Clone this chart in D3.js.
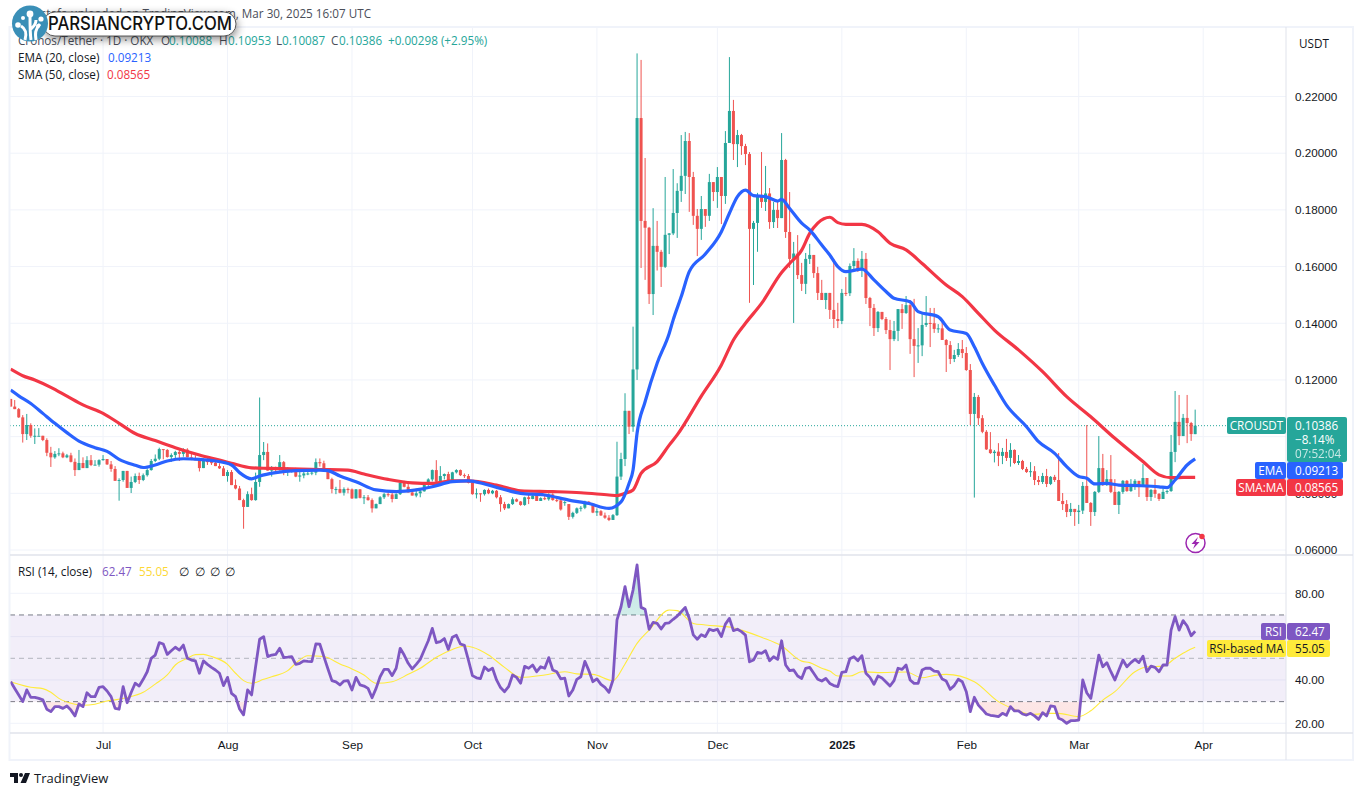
<!DOCTYPE html>
<html>
<head>
<meta charset="utf-8">
<script src="https://cdnjs.cloudflare.com/ajax/libs/d3/7.8.5/d3.min.js"></script>
<style>
  html, body { margin: 0; padding: 0; background: #fff; }
  svg { display: block; }
  text { font-family: "Open Sans", "Noto Sans", sans-serif; font-size: 11.7px; fill: #131722; }
  .axis path, .axis line { display: none; }
</style>
</head>
<body>
<svg id="chart" width="1364" height="796"></svg>
<script>
// daily candles, first one is 8 Jun 2024, last one 30 Mar 2025
const firstDay = Date.UTC(2024, 5, 8);
const firstOpen = .1133;
const closes = [
  .1106,.1097,.1068,.1009,.1041,.1003,.1003,.1003,.0988,.0943,
  .0927,.0939,.0941,.0927,.0934,.0911,.0882,.0907,.0889,.0917,
  .0900,.0901,.0917,.0921,.0902,.0886,.0844,.0847,.0879,.0819,
  .0840,.0861,.0847,.0864,.0882,.0914,.0922,.0956,.0953,.0928,
  .0935,.0946,.0939,.0954,.0927,.0920,.0917,.0889,.0920,.0910,
  .0908,.0896,.0888,.0861,.0875,.0829,.0817,.0776,.0752,.0797,
  .0776,.0840,.0935,.0946,.0880,.0890,.0882,.0910,.0880,.0880,
  .0884,.0859,.0863,.0870,.0870,.0873,.0910,.0906,.0884,.0850,
  .0815,.0815,.0802,.0815,.0814,.0782,.0814,.0784,.0786,.0776,
  .0747,.0762,.0786,.0797,.0796,.0780,.0797,.0837,.0823,.0803,
  .0792,.0800,.0807,.0835,.0849,.0882,.0841,.0861,.0868,.0843,
  .0874,.0882,.0864,.0861,.0837,.0797,.0800,.0797,.0812,.0800,
  .0809,.0786,.0762,.0747,.0762,.0779,.0771,.0759,.0786,.0780,
  .0792,.0773,.0783,.0779,.0796,.0776,.0775,.0743,.0769,.0717,
  .0731,.0747,.0749,.0770,.0764,.0732,.0737,.0722,.0714,.0706,
  .0723,.0859,.0921,.1091,.1035,.1237,.2124,.1761,.1737,.1503,
  .1673,.1652,.1599,.1712,.1717,.1789,.1867,.1920,.2043,.1916,
  .1779,.1733,.1803,.1779,.1898,.1863,.1916,.1849,.2036,.2149,
  .2032,.2064,.2025,.1997,.1733,.1754,.1846,.1828,.1858,.1757,
  .1800,.1771,.1976,.1722,.1627,.1646,.1570,.1539,.1627,.1641,
  .1577,.1507,.1482,.1507,.1447,.1415,.1408,.1507,.1506,.1602,
  .1620,.1588,.1627,.1489,.1454,.1383,.1440,.1415,.1376,.1344,
  .1373,.1450,.1436,.1464,.1344,.1320,.1322,.1394,.1401,.1400,
  .1380,.1382,.1341,.1323,.1274,.1288,.1309,.1295,.1235,.1080,
  .1140,.1065,.1017,.0955,.0942,.0947,.0932,.0946,.0925,.0953,
  .0907,.0914,.0886,.0875,.0878,.0847,.0840,.0861,.0833,.0858,
  .0847,.0773,.0762,.0734,.0745,.0734,.0739,.0826,.0766,.0734,
  .0805,.0889,.0829,.0850,.0805,.0759,.0805,.0844,.0808,.0833,
  .0844,.0826,.0854,.0787,.0812,.0798,.0780,.0805,.0808,.0946,
  .1052,.1002,.1066,.1048,.1009,.10386
];
const highs = [
  .1133,.1129,.1101,.1076,.1080,.1047,.1029,.1030,.1003,.0994,
  .0964,.0949,.0959,.0947,.0939,.0943,.0923,.0953,.0927,.0931,
  .0935,.0917,.0920,.0935,.0921,.0914,.0896,.0853,.0879,.0879,
  .0859,.0870,.0873,.0870,.0888,.0921,.0937,.0961,.0956,.0956,
  .0941,.0950,.0959,.0959,.0959,.0939,.0934,.0923,.0923,.0929,
  .0922,.0923,.0906,.0896,.0882,.0882,.0849,.0826,.0781,.0807,
  .0820,.0873,.1138,.0981,.0976,.0896,.0894,.0935,.0914,.0892,
  .0888,.0890,.0882,.0884,.0882,.0884,.0923,.0923,.0915,.0888,
  .0855,.0823,.0847,.0821,.0820,.0817,.0815,.0815,.0794,.0794,
  .0782,.0764,.0790,.0802,.0809,.0804,.0800,.0847,.0844,.0835,
  .0812,.0817,.0814,.0837,.0853,.0884,.0917,.0896,.0870,.0876,
  .0876,.0885,.0884,.0870,.0868,.0844,.0817,.0800,.0814,.0817,
  .0812,.0812,.0794,.0770,.0764,.0786,.0782,.0773,.0788,.0794,
  .0800,.0794,.0786,.0794,.0800,.0800,.0782,.0776,.0773,.0762,
  .0735,.0750,.0755,.0774,.0773,.0759,.0747,.0741,.0732,.0723,
  .0727,.0982,.0943,.1153,.1091,.1388,.2352,.2329,.1983,.1740,
  .1806,.1761,.1659,.1916,.1718,.1944,.1894,.2064,.2075,.2071,
  .1934,.1803,.1849,.1803,.1927,.1898,.1951,.1916,.2078,.2339,
  .2188,.2082,.2068,.2033,.2004,.1761,.1860,.2004,.1955,.1877,
  .1828,.1835,.2071,.1980,.1863,.1687,.1711,.1613,.1648,.1680,
  .1641,.1599,.1553,.1507,.1507,.1627,.1472,.1521,.1563,.1611,
  .1665,.1629,.1655,.1648,.1493,.1468,.1443,.1440,.1422,.1412,
  .1408,.1450,.1468,.1496,.1482,.1486,.1383,.1440,.1496,.1454,
  .1454,.1397,.1415,.1344,.1337,.1306,.1330,.1341,.1316,.1256,
  .1154,.1147,.1076,.1023,.1016,.0953,.0977,.0960,.0992,.0977,
  .0955,.0935,.0918,.0893,.0910,.0896,.0861,.0872,.0886,.0861,
  .0865,.0942,.0801,.0776,.0766,.0745,.0759,.0840,.1041,.0769,
  .0808,.1002,.0939,.0882,.0935,.0850,.0808,.0847,.0847,.0850,
  .0850,.0844,.0903,.0854,.0815,.0850,.0801,.0826,.0812,.1006,
  .1161,.1147,.1080,.1147,.1052,.10953
];
const lows = [
  .1106,.1097,.1066,.0979,.0988,.0996,.0974,.1003,.0984,.0931,
  .0893,.0922,.0931,.0924,.0924,.0909,.0861,.0882,.0889,.0889,
  .0896,.0900,.0894,.0915,.0900,.0876,.0844,.0774,.0841,.0819,
  .0801,.0836,.0833,.0843,.0859,.0880,.0910,.0917,.0920,.0926,
  .0911,.0924,.0914,.0929,.0927,.0917,.0917,.0877,.0889,.0900,
  .0900,.0896,.0886,.0861,.0841,.0829,.0814,.0776,.0675,.0752,
  .0774,.0774,.0823,.0917,.0880,.0859,.0868,.0880,.0864,.0861,
  .0873,.0857,.0841,.0853,.0864,.0864,.0864,.0894,.0882,.0850,
  .0800,.0797,.0800,.0792,.0800,.0780,.0782,.0782,.0762,.0774,
  .0732,.0747,.0762,.0780,.0788,.0768,.0780,.0794,.0821,.0803,
  .0792,.0786,.0786,.0806,.0826,.0842,.0835,.0841,.0849,.0841,
  .0844,.0870,.0861,.0854,.0835,.0795,.0782,.0770,.0792,.0797,
  .0797,.0782,.0735,.0741,.0747,.0759,.0769,.0756,.0756,.0762,
  .0779,.0773,.0773,.0776,.0774,.0774,.0769,.0739,.0756,.0706,
  .0711,.0727,.0736,.0744,.0762,.0730,.0720,.0720,.0710,.0702,
  .0706,.0720,.0847,.0896,.1009,.1017,.1200,.1595,.1553,.1468,
  .1429,.1586,.1528,.1595,.1644,.1711,.1701,.1828,.1856,.1793,
  .1747,.1637,.1694,.1740,.1761,.1831,.1807,.1750,.1821,.2036,
  .1976,.1951,.1994,.1958,.1472,.1535,.1652,.1807,.1796,.1733,
  .1736,.1736,.1771,.1701,.1595,.1401,.1556,.1514,.1503,.1609,
  .1560,.1482,.1482,.1450,.1415,.1383,.1383,.1397,.1496,.1496,
  .1588,.1581,.1563,.1468,.1390,.1355,.1369,.1411,.1362,.1235,
  .1337,.1337,.1380,.1433,.1292,.1210,.1260,.1284,.1387,.1316,
  .1366,.1366,.1341,.1228,.1256,.1263,.1281,.1277,.1232,.1041,
  .0785,.1041,.1012,.0953,.0939,.0909,.0896,.0903,.0914,.0894,
  .0903,.0900,.0882,.0872,.0858,.0829,.0829,.0833,.0822,.0829,
  .0840,.0773,.0741,.0716,.0720,.0685,.0692,.0727,.0766,.0685,
  .0720,.0801,.0826,.0826,.0801,.0759,.0727,.0798,.0805,.0805,
  .0812,.0787,.0826,.0773,.0773,.0784,.0773,.0780,.0798,.0805,
  .0910,.0970,.1002,.0977,.0985,.10087
];
// days where the open was not the previous close
const openGaps = { 138: .0767, 139: .0762, 295: .10088 };

const emaDays = [0,2,5,8,11,14,17,21,24,27,31,33,36,39,43,47,51,55,57,60,62,66,71,77,79,82,86,91,96,101,105,110,114,118,122,127,133,139,144,149,152,154,155,156,158,161,164,165,167,169,173,177,179,181,183,185,188,191,192,194,197,199,202,204,206,208,212,215,218,220,224,226,231,234,238,240,242,245,248,253,256,260,263,266,268,270,273,276,281,286,288,290,293,295];
const emaValues = [.1164,.1144,.1117,.1082,.1047,.1014,.0984,.0961,.0948,.0920,.0899,.0891,.0900,.0914,.0922,.0920,.0914,.0900,.0873,.0851,.0861,.0873,.0880,.0882,.0880,.0861,.0841,.0812,.0806,.0812,.0823,.0841,.0844,.0833,.0817,.0800,.0794,.0776,.0764,.0747,.0770,.0835,.0882,.1012,.1123,.1259,.1364,.1412,.1494,.1582,.1644,.1723,.1788,.1847,.1870,.1850,.1847,.1831,.1837,.1805,.1753,.1729,.1676,.1641,.1600,.1582,.1591,.1553,.1512,.1488,.1476,.1441,.1423,.1376,.1364,.1317,.1258,.1182,.1111,.1035,.0982,.0941,.0894,.0859,.0853,.0833,.0835,.0829,.0827,.0823,.0820,.0847,.0900,.09213];
const smaDays = [0,3,6,10,14,18,23,27,31,36,41,47,52,55,60,64,70,77,84,88,94,100,105,110,114,121,127,135,142,149,151,153,155,157,161,164,166,172,177,180,183,187,192,194,197,199,201,204,206,208,212,216,219,223,227,233,237,241,245,251,257,263,269,275,282,286,289,292,295];
const smaValues = [.1238,.1215,.1200,.1174,.1143,.1112,.1082,.1047,.1011,.0986,.0961,.0935,.0917,.0906,.0890,.0888,.0886,.0884,.0882,.0868,.0849,.0837,.0835,.0844,.0844,.0829,.0809,.0806,.0802,.0794,.0792,.0800,.0812,.0870,.0912,.0970,.1006,.1143,.1253,.1341,.1400,.1470,.1579,.1611,.1658,.1717,.1753,.1774,.1755,.1749,.1749,.1723,.1682,.1659,.1611,.1535,.1494,.1435,.1376,.1306,.1229,.1141,.1070,.0994,.0912,.0865,.0855,.0856,.08565];

const rsiValues = [
  39.2,36.1,33.1,30.0,35.4,32.0,32.0,31.5,30.8,26.5,
  25.4,27.7,27.7,26.9,28.0,26.1,23.4,28.9,27.7,34.1,
  32.3,32.3,36.6,36.9,34.9,32.3,26.9,26.5,36.9,29.5,
  34.2,38.5,37.2,40.3,43.8,50.0,51.5,57.2,56.6,51.8,
  53.5,55.1,53.8,56.1,50.0,49.2,48.8,43.1,48.8,47.2,
  45.8,44.6,43.1,37.4,41.2,33.8,32.3,26.6,23.9,35.4,
  33.1,46.2,58.8,60.0,50.8,51.5,51.8,54.6,50.3,50.5,
  50.8,47.2,47.7,48.8,48.6,48.5,56.6,56.5,50.8,45.2,
  39.7,39.1,37.7,39.5,39.7,35.4,41.2,37.7,37.2,36.1,
  31.8,36.1,41.5,44.9,44.9,42.0,45.4,54.6,51.5,47.7,
  45.1,47.2,49.5,53.8,58.1,63.8,57.2,57.7,59.1,54.1,
  59.7,60.6,56.6,56.0,49.2,42.0,41.0,40.6,46.0,44.3,
  45.4,40.0,36.5,34.6,36.9,42.3,41.2,38.5,46.3,45.4,
  46.9,43.8,46.1,45.4,50.3,44.6,43.8,40.5,40.8,32.6,
  35.4,40.3,41.5,48.6,44.3,39.2,40.5,38.0,36.6,34.3,
  40.0,67.7,73.8,83.1,73.8,81.5,93.1,73.5,72.6,63.4,
  66.6,66.1,63.5,66.1,66.4,68.0,69.5,71.5,73.5,68.4,
  60.8,58.8,60.9,60.0,63.4,62.8,63.4,60.0,65.8,68.4,
  62.8,63.4,62.3,60.7,48.4,49.2,52.7,52.3,53.5,48.9,
  50.7,49.5,58.1,46.9,44.3,44.6,41.8,40.7,45.4,45.8,
  43.1,40.3,39.5,40.7,38.4,37.4,36.9,43.5,43.8,49.8,
  50.7,48.9,51.2,43.1,41.2,38.0,41.8,40.9,39.1,37.2,
  39.7,45.4,44.9,46.9,40.0,38.4,38.4,44.6,45.5,45.4,
  44.1,43.8,40.4,39.5,35.7,37.4,40.3,39.2,34.6,25.4,
  32.0,28.4,26.4,24.3,23.7,23.4,23.1,24.6,23.7,27.7,
  25.7,25.7,24.3,23.8,24.6,23.4,21.8,24.9,23.4,28.0,
  27.7,22.3,21.5,20.0,21.2,21.2,21.5,40.0,34.1,31.5,
  41.5,51.5,46.1,48.0,43.8,40.0,44.6,49.2,46.1,48.0,
  49.5,48.0,51.0,43.8,46.4,45.8,43.8,46.9,46.9,63.0,
  69.2,63.0,67.4,64.9,60.4,62.47
];
const rsiMaDays = [0,2,5,8,10,12,16,18,21,24,26,29,33,36,39,41,44,46,48,50,54,56,58,60,63,65,69,71,74,78,82,85,88,91,95,99,102,106,110,113,115,119,123,127,133,138,141,145,150,153,156,159,164,166,170,173,180,182,187,192,197,199,202,204,206,209,212,216,223,227,230,233,240,246,251,254,259,261,266,269,272,275,280,283,287,290,293,295];
const rsiMaValues = [39.2,38.0,36.6,36.0,34.3,31.5,28.8,28.3,28.8,30.3,30.8,31.9,34.3,38.1,42.3,46.9,50.0,51.7,51.8,50.8,47.2,43.1,39.7,38.5,40.3,41.5,44.3,47.7,51.2,50.8,47.4,45.1,42.3,38.5,39.2,42.6,45.4,50.5,54.1,55.7,55.1,51.5,45.8,41.2,42.3,43.8,42.8,42.6,39.7,47.4,56.9,63.0,72.3,72.0,66.1,65.4,64.1,63.0,59.7,55.7,48.7,48.0,45.4,44.1,41.8,41.8,43.8,43.4,43.7,41.0,42.1,42.6,39.2,30.0,25.8,24.1,24.6,24.6,23.1,25.8,30.7,34.6,43.8,46.1,46.4,50.0,53.4,55.05];

const priceTicks = [.06,.08,.10,.12,.14,.16,.18,.20,.22];
const rsiTicks = [20,40,60,80];
const rsiBands = [70,50,30];
// 0.10000 and 60.00 sit fully under the price tags
const priceLabels = [.06,.08,.12,.14,.16,.18,.20,.22];
const rsiLabels = [20,40,80];

const GREEN = "#26a69a", RED = "#ef5350", BLUE = "#2962ff", SMA_RED = "#f23645", PURPLE = "#7e57c2", YELLOW = "#ffeb3b";
const GRID = "#f0f3fa", BORDER = "#e0e3eb";
const paneLeft = 10, paneRight = 1286, axisRight = 1353, frameTop = 27, frameBottom = 760, mainBottom = 555, timeTop = 733;

const dayDate = i => new Date(firstDay + i * 864e5);
const opens = closes.map((c, i) => openGaps[i] !== undefined ? openGaps[i] : (i ? closes[i - 1] : firstOpen));

const x = d3.scaleUtc()
  .domain([dayDate(0), new Date(Date.UTC(2025, 3, 1))])
  .range([10.7, 1203.2]);
const y = d3.scaleLinear().domain([.06, .22]).range([550, 96.5]);
const yRsi = d3.scaleLinear().domain([20, 80]).range([723.3, 593.3]);

const svg = d3.select("#chart");
const defs = svg.append("defs");
defs.append("clipPath").attr("id", "mainClip").append("rect")
  .attr("x", paneLeft).attr("y", frameTop).attr("width", paneRight - paneLeft).attr("height", mainBottom - frameTop);
defs.append("clipPath").attr("id", "rsiClip").append("rect")
  .attr("x", paneLeft).attr("y", mainBottom).attr("width", paneRight - paneLeft).attr("height", timeTop - mainBottom);
defs.append("clipPath").attr("id", "aboveClip").append("rect")
  .attr("x", paneLeft).attr("y", mainBottom).attr("width", paneRight - paneLeft).attr("height", yRsi(70) - mainBottom);
defs.append("clipPath").attr("id", "belowClip").append("rect")
  .attr("x", paneLeft).attr("y", yRsi(30)).attr("width", paneRight - paneLeft).attr("height", timeTop - yRsi(30));
const gradient = (id, color, a0, a1) => {
  const g = defs.append("linearGradient").attr("id", id).attr("x1", 0).attr("x2", 0).attr("y1", 0).attr("y2", 1);
  g.append("stop").attr("offset", "0%").attr("stop-color", color).attr("stop-opacity", a0);
  g.append("stop").attr("offset", "100%").attr("stop-color", color).attr("stop-opacity", a1);
};
gradient("overGrad", GREEN, .3, .01);
gradient("underGrad", RED, .02, .16);
const blur = defs.append("filter").attr("id", "pillShadow").attr("x", "-10%").attr("y", "-40%").attr("width", "120%").attr("height", "220%");
blur.append("feDropShadow").attr("dx", 1).attr("dy", 3).attr("stdDeviation", 4).attr("flood-color", "#000").attr("flood-opacity", .45);

// grid
const months = d3.utcMonth.range(new Date(Date.UTC(2024, 6, 1)), new Date(Date.UTC(2025, 3, 2)));
const grid = svg.append("g");
grid.selectAll(".v").data(months).join("line")
  .attr("x1", d => x(d)).attr("x2", d => x(d)).attr("y1", frameTop).attr("y2", timeTop)
  .attr("stroke", GRID);
grid.selectAll(".h").data(priceTicks).join("line")
  .attr("x1", paneLeft).attr("x2", paneRight).attr("y1", d => y(d)).attr("y2", d => y(d))
  .attr("stroke", GRID);
grid.selectAll(".r").data(rsiTicks).join("line")
  .attr("x1", paneLeft).attr("x2", paneRight).attr("y1", d => yRsi(d)).attr("y2", d => yRsi(d))
  .attr("stroke", GRID);

// last price line
svg.append("line")
  .attr("x1", paneLeft).attr("x2", 1227).attr("y1", y(.10386)).attr("y2", y(.10386))
  .attr("stroke", GREEN).attr("stroke-dasharray", "1 2");

// candles
const main = svg.append("g").attr("clip-path", "url(#mainClip)");
const candleColor = i => closes[i] >= opens[i] ? GREEN : RED;
main.selectAll(".wick").data(closes).join("line")
  .attr("x1", (d, i) => x(dayDate(i))).attr("x2", (d, i) => x(dayDate(i)))
  .attr("y1", (d, i) => y(highs[i])).attr("y2", (d, i) => y(lows[i]))
  .attr("stroke", (d, i) => candleColor(i)).attr("stroke-width", 1);
main.selectAll(".body").data(closes).join("rect")
  .attr("x", (d, i) => x(dayDate(i)) - 1.5).attr("width", 3)
  .attr("y", (d, i) => y(Math.max(d, opens[i])))
  .attr("height", (d, i) => Math.max(1, Math.abs(y(d) - y(opens[i]))))
  .attr("fill", (d, i) => candleColor(i));

// moving averages
const maLine = d3.line().x(d => x(dayDate(d[0]))).y(d => y(d[1])).curve(d3.curveMonotoneX);
main.append("path").datum(d3.zip(smaDays, smaValues)).attr("d", maLine)
  .attr("fill", "none").attr("stroke", SMA_RED).attr("stroke-width", 3.2).attr("stroke-linejoin", "round");
main.append("path").datum(d3.zip(emaDays, emaValues)).attr("d", maLine)
  .attr("fill", "none").attr("stroke", BLUE).attr("stroke-width", 3.2).attr("stroke-linejoin", "round");

// rsi pane
const rsi = svg.append("g").attr("clip-path", "url(#rsiClip)");
rsi.append("rect").attr("x", paneLeft).attr("width", paneRight - paneLeft)
  .attr("y", yRsi(70)).attr("height", yRsi(30) - yRsi(70))
  .attr("fill", PURPLE).attr("fill-opacity", .1);
rsi.selectAll(".band").data(rsiBands).join("line")
  .attr("x1", paneLeft).attr("x2", paneRight).attr("y1", d => yRsi(d)).attr("y2", d => yRsi(d))
  .attr("stroke", d => d === 50 ? "#b2b5be" : "#787b86").attr("stroke-dasharray", "5 4");
const rsiArea = base => d3.area().x((d, i) => x(dayDate(i))).y0(yRsi(base)).y1(d => yRsi(d));
rsi.append("g").attr("clip-path", "url(#aboveClip)").append("path").datum(rsiValues)
  .attr("d", rsiArea(70)).attr("fill", "url(#overGrad)");
rsi.append("g").attr("clip-path", "url(#belowClip)").append("path").datum(rsiValues)
  .attr("d", rsiArea(30)).attr("fill", "url(#underGrad)");
rsi.append("path").datum(d3.zip(rsiMaDays, rsiMaValues))
  .attr("d", d3.line().x(d => x(dayDate(d[0]))).y(d => yRsi(d[1])).curve(d3.curveMonotoneX))
  .attr("fill", "none").attr("stroke", YELLOW).attr("stroke-width", 1.1);
rsi.append("path").datum(rsiValues)
  .attr("d", d3.line().x((d, i) => x(dayDate(i))).y(d => yRsi(d)))
  .attr("fill", "none").attr("stroke", PURPLE).attr("stroke-width", 2.8).attr("stroke-linejoin", "round");

// frame
const frame = svg.append("g").attr("fill", "none");
frame.append("rect").attr("x", 9.5).attr("y", frameTop).attr("width", axisRight - 9.5).attr("height", frameBottom - frameTop)
  .attr("stroke", GRID).attr("stroke-width", 2);
frame.append("line").attr("x1", paneRight).attr("x2", paneRight).attr("y1", frameTop).attr("y2", frameBottom).attr("stroke", BORDER);
frame.append("line").attr("x1", paneLeft).attr("x2", axisRight).attr("y1", mainBottom).attr("y2", mainBottom).attr("stroke", BORDER).attr("stroke-width", 1.5);
frame.append("line").attr("x1", paneLeft).attr("x2", axisRight).attr("y1", timeTop).attr("y2", timeTop).attr("stroke", BORDER).attr("stroke-width", 1.5);

// axes
svg.append("g").attr("class", "axis").attr("transform", `translate(${paneRight},0)`)
  .call(d3.axisRight(y).tickValues(priceLabels).tickFormat(d3.format(".5f")).tickSize(0).tickPadding(9))
  .selectAll("text").style("font-size", "11.7px").style("font-family", "inherit").attr("fill", "#131722");
svg.append("g").attr("class", "axis").attr("transform", `translate(${paneRight},0)`)
  .call(d3.axisRight(yRsi).tickValues(rsiLabels).tickFormat(d3.format(".2f")).tickSize(0).tickPadding(9))
  .selectAll("text").style("font-size", "11.7px").style("font-family", "inherit").attr("fill", "#131722");
svg.append("g").attr("class", "axis").attr("transform", `translate(0,${timeTop})`)
  .call(d3.axisBottom(x).tickValues(months)
    .tickFormat(d => d.getUTCMonth() === 0 ? String(d.getUTCFullYear()) : d3.utcFormat("%b")(d))
    .tickSize(0).tickPadding(8))
  .selectAll("text").style("font-size", "11.7px").style("font-family", "inherit").attr("fill", "#131722")
  .style("font-weight", d => d.getUTCMonth() === 0 ? "700" : "400");

const label = (txt, px, py, color, opts = {}) => svg.append("text")
  .attr("x", px).attr("y", py).attr("dy", "0.35em")
  .attr("text-anchor", opts.anchor || "start")
  .style("fill", color || "#131722")
  .style("font-size", opts.size || "11.7px")
  .style("font-weight", opts.weight || 400)
  .style("opacity", opts.opacity === undefined ? 1 : opts.opacity)
  .text(txt);

label("USDT", 1299, 44);

// price tags on the right
const tag = (px, py, w, h, color, r) => svg.append("rect")
  .attr("x", px).attr("y", py).attr("width", w).attr("height", h).attr("fill", color).attr("rx", r || 2);
tag(1227, 417, 59, 17, GREEN);
tag(1287, 417, 60, 45, GREEN);
label("CROUSDT", 1256.5, 425.5, "#fff", { anchor: "middle" });
label("0.10386", 1295, 425.5, "#fff");
label("−8.14%", 1295, 440, "#fff");
label("07:52:04", 1295, 454, "#fff", { opacity: .75 });
tag(1255, 462, 31, 17, BLUE);
tag(1287, 462, 56, 17, BLUE);
label("EMA", 1270.5, 470.5, "#fff", { anchor: "middle" });
label("0.09213", 1295, 470.5, "#fff");
tag(1236, 479, 50, 17, SMA_RED);
tag(1287, 479, 56, 17, SMA_RED);
label("SMA:MA", 1261, 487.5, "#fff", { anchor: "middle" });
label("0.08565", 1295, 487.5, "#fff");
tag(1261, 623, 25, 17, PURPLE);
tag(1287, 623, 43, 17, PURPLE);
label("RSI", 1273.5, 631.5, "#fff", { anchor: "middle" });
label("62.47", 1295, 631.5, "#fff");
tag(1207, 640, 79, 17, YELLOW);
tag(1287, 640, 43, 17, YELLOW);
label("RSI-based MA", 1246.5, 648.5, "#131722", { anchor: "middle" });
label("55.05", 1295, 648.5, "#131722");

// legends
const TEAL_TXT = "#26a69a";
label("Cronos/Tether · 1D · OKX", 18, 41, "#4a4e59");
[["O", 161, "0.10088", 169], ["H", 219, "0.10953", 228], ["L", 276, "0.10087", 282], ["C", 331, "0.10386", 339]]
  .forEach(([k, kx, v, vx]) => { label(k, kx, 41, "#4a4e59"); label(v, vx, 41, TEAL_TXT); });
label("+0.00298 (+2.95%)", 388, 41, TEAL_TXT);
label("EMA (20, close)", 18, 58);
label("0.09213", 108, 58, BLUE);
label("SMA (50, close)", 18, 75);
label("0.08565", 107, 75, SMA_RED);
label("RSI (14, close)", 18, 571.5);
label("62.47", 102, 571.5, PURPLE);
label("55.05", 139, 571.5, "#fdd835");
[179, 195, 210, 225].forEach(px => label("∅", px, 571.5));

// alert badge
const badge = svg.append("g").attr("transform", "translate(1195.5,543)");
badge.append("circle").attr("r", 9.5).attr("fill", "#fff").attr("stroke", "#9c27b0").attr("stroke-width", 1.5);
badge.append("path").attr("d", "M2.5 -6 L-4 1 H-0.5 L-2.5 6 L4 -1 H0.5 Z").attr("fill", "#9c27b0");
badge.append("circle").attr("cx", 6.5).attr("cy", -6.5).attr("r", 2.7).attr("fill", "#f23645");

// attribution and watermark
label("mustafa uploaded on TradingView.com, Mar 30, 2025 16:07 UTC", 371, 14, "#4a4e59", { anchor: "end" });
const logo = svg.append("g");
logo.append("rect").attr("x", 43).attr("y", 12).attr("width", 193).attr("height", 24).attr("rx", 12)
  .attr("fill", "#fff").attr("stroke", "#333").attr("stroke-width", .8).attr("filter", "url(#pillShadow)");
logo.append("circle").attr("cx", 30).attr("cy", 23.5).attr("r", 18).attr("fill", "#3a8fb7");
logo.append("path").attr("d", "M25 40 C27 33 26 29 21 26 M31 40 C30 33 30 27 30 16 M36 40 C35 33 35 30 40 24 M30 30 C34 26 36 24 36 20")
  .attr("fill", "none").attr("stroke", "#fff").attr("stroke-width", 3);
[[30, 14, 3.4], [18, 25, 2.8], [41, 19, 2.6], [38, 26, 2], [23, 18, 2]].forEach(([cx, cy, r]) =>
  logo.append("circle").attr("cx", cx).attr("cy", cy).attr("r", r).attr("fill", "#fff"));
svg.append("text").attr("x", 48).attr("y", 24).attr("dy", "0.36em")
  .attr("textLength", 184).attr("lengthAdjust", "spacingAndGlyphs")
  .style("font-family", "Inter, 'Open Sans', sans-serif").style("font-size", "18px").style("font-weight", 500).style("fill", "#111")
  .text("PARSIANCRYPTO.COM");

// tradingview footer
svg.append("path").attr("d", "M10 773 H18 V783 H14 V777 H10 Z M25 773 H30 L26 783 H20.5 Z").attr("fill", "#131722");
svg.append("circle").attr("cx", 21).attr("cy", 775).attr("r", 2).attr("fill", "#131722");
label("TradingView", 34, 778, "#131722", { size: "13px" });
</script>
</body>
</html>
